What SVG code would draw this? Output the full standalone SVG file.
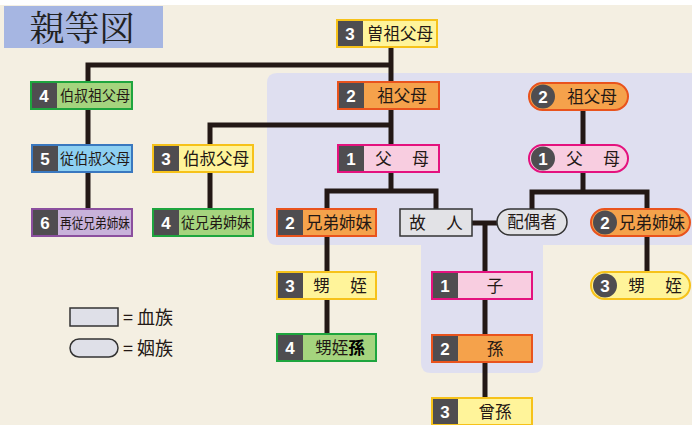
<svg xmlns="http://www.w3.org/2000/svg" width="692" height="425" viewBox="0 0 692 425">
<style>
.lbl{font-family:"Noto Sans CJK JP","Noto Sans",sans-serif;font-size:16.5px;fill:#231815;text-anchor:middle}
.sm{font-size:14.5px}
.xs{font-size:13.5px}
.lg{font-size:18px;text-anchor:start}
.sp{letter-spacing:2px}
.num{font-family:"Liberation Sans",Arial,sans-serif;font-weight:bold;font-size:17px;fill:#fff;text-anchor:middle}
.nb{fill:#4f4d50}
.ln{fill:none;stroke:#231815;stroke-width:5;stroke-linejoin:miter}
.y{fill:#fff49a;stroke:#f6c21a}
.o{fill:#f5a24b;stroke:#e9531d}
.g{fill:#a5d47e;stroke:#1ea53e}
.b{fill:#8dd0f2;stroke:#3a78bf}
.p{fill:#c8b2da;stroke:#8b4f9e}
.k{fill:#f8cde0;stroke:#e4127e}
.w{fill:#e2e2e6;stroke:#333}
.fr{stroke-width:2}
.nf{fill:none;stroke-width:2}
</style>
<rect x="0" y="0" width="692" height="425" fill="#f4efe2"/>
<rect x="0" y="0" width="692" height="5" fill="#ffffff"/>
<path d="M267,83 Q267,73 277,73 H692 V245 H543 V363 Q543,373 533,373 H431 Q421,373 421,363 V245 H277 Q267,245 267,235 Z" fill="#dfdff0"/>
<g id="title">
<rect x="4" y="6" width="159" height="42" fill="#a6b6e2"/>
<text x="82" y="41" font-family="Noto Serif CJK JP,Noto Sans CJK JP,serif" font-size="35" fill="#222" text-anchor="middle">親等図</text>
</g>
<g id="connectors">
<path class="ln" d="M391,47 V145"/>
<path class="ln" d="M88,209 V65 H391"/>
<path class="ln" d="M210,209 V125 H391"/>
<path class="ln" d="M391,173 V191"/>
<path class="ln" d="M327,209 V191 H436 V209"/>
<path class="ln" d="M327,237 V334"/>
<path class="ln" d="M472,223 H497"/>
<path class="ln" d="M485,223 V400"/>
<path class="ln" d="M583,110 V145"/>
<path class="ln" d="M583,172 V192"/>
<path class="ln" d="M532,209 V192 H647 V272"/>
</g>
<g id="ggp"><rect class="y" x="337" y="20" width="100" height="27"/><rect class="nb" x="338" y="21" width="25" height="25"/><rect class="y nf" x="337" y="20" width="100" height="27"/><text class="num" x="350" y="40">3</text><text class="lbl" x="400" y="39.5">曽祖父母</text></g>
<g id="gp"><rect class="o" x="338" y="82" width="101" height="27"/><rect class="nb" x="339" y="83" width="25" height="25"/><rect class="o nf" x="338" y="82" width="101" height="27"/><text class="num" x="351" y="102">2</text><text class="lbl" x="402" y="101.5">祖父母</text></g>
<g id="gu"><rect class="g" x="31" y="82" width="101" height="27"/><rect class="nb" x="32" y="83" width="25" height="25"/><rect class="g nf" x="31" y="82" width="101" height="27"/><text class="num" x="44" y="102">4</text><text class="lbl sm" x="95" y="101" textLength="70" lengthAdjust="spacingAndGlyphs">伯叔祖父母</text></g>
<g id="u2"><rect class="b" x="32" y="145" width="100" height="27"/><rect class="nb" x="33" y="146" width="25" height="25"/><rect class="b nf" x="32" y="145" width="100" height="27"/><text class="num" x="45" y="165">5</text><text class="lbl sm" x="95" y="164" textLength="70" lengthAdjust="spacingAndGlyphs">従伯叔父母</text></g>
<g id="c3"><rect class="p" x="32" y="209" width="100" height="27"/><rect class="nb" x="33" y="210" width="25" height="25"/><rect class="p nf" x="32" y="209" width="100" height="27"/><text class="num" x="45" y="229">6</text><text class="lbl xs" x="95" y="228" textLength="70" lengthAdjust="spacingAndGlyphs">再従兄弟姉妹</text></g>
<g id="u"><rect class="y" x="153" y="145" width="100" height="27"/><rect class="nb" x="154" y="146" width="25" height="25"/><rect class="y nf" x="153" y="145" width="100" height="27"/><text class="num" x="166" y="165">3</text><text class="lbl" x="216" y="164.5">伯叔父母</text></g>
<g id="c"><rect class="g" x="153" y="209" width="100" height="27"/><rect class="nb" x="154" y="210" width="25" height="25"/><rect class="g nf" x="153" y="209" width="100" height="27"/><text class="num" x="166" y="229">4</text><text class="lbl sm" x="216" y="228" textLength="70" lengthAdjust="spacingAndGlyphs">従兄弟姉妹</text></g>
<g id="p"><rect class="k" x="338" y="145" width="101" height="27"/><rect class="nb" x="339" y="146" width="25" height="25"/><rect class="k nf" x="338" y="145" width="101" height="27"/><text class="num" x="351" y="165">1</text><text class="lbl sp" x="403" y="164.5">父　母</text></g>
<g id="sib"><rect class="o" x="277" y="209" width="99" height="27"/><rect class="nb" x="278" y="210" width="25" height="25"/><rect class="o nf" x="277" y="209" width="99" height="27"/><text class="num" x="290" y="229">2</text><text class="lbl" x="339" y="228.5">兄弟姉妹</text></g>
<g id="n"><rect class="y" x="277" y="272" width="99" height="27"/><rect class="nb" x="278" y="273" width="25" height="25"/><rect class="y nf" x="277" y="272" width="99" height="27"/><text class="num" x="290" y="292">3</text><text class="lbl sp" x="341" y="291.5">甥　姪</text></g>
<g id="gn"><rect class="g" x="277" y="334" width="99" height="27"/><rect class="nb" x="278" y="335" width="25" height="25"/><rect class="g nf" x="277" y="334" width="99" height="27"/><text class="num" x="290" y="354">4</text><text class="lbl" x="340" y="353.5">甥姪<tspan font-weight="bold" fill="#000">孫</tspan></text></g>
<g id="self"><rect class="w" x="400" y="209" width="72" height="27" stroke-width="1.5"/><text class="lbl sp" x="437" y="228.5">故　人</text></g>
<g id="child"><rect class="k" x="432" y="272" width="100" height="27"/><rect class="nb" x="433" y="273" width="25" height="25"/><rect class="k nf" x="432" y="272" width="100" height="27"/><text class="num" x="445" y="292">1</text><text class="lbl" x="495" y="291.5">子</text></g>
<g id="gc"><rect class="o" x="432" y="335" width="100" height="27"/><rect class="nb" x="433" y="336" width="25" height="25"/><rect class="o nf" x="432" y="335" width="100" height="27"/><text class="num" x="445" y="355">2</text><text class="lbl" x="495" y="354.5">孫</text></g>
<g id="ggc"><rect class="y" x="432" y="398" width="100" height="27"/><rect class="nb" x="433" y="399" width="25" height="25"/><rect class="y nf" x="432" y="398" width="100" height="27"/><text class="num" x="445" y="418">3</text><text class="lbl" x="495" y="417.5">曾孫</text></g>
<g id="spouse"><rect class="w" x="497" y="209" width="70" height="26" rx="13" stroke-width="1.5"/><text class="lbl" x="532" y="228">配偶者</text></g>
<g id="sgp"><rect class="o fr" x="529" y="83" width="99" height="27" rx="13.5"/><circle class="nb" cx="543" cy="96.5" r="12"/><text class="num" x="543" y="102.5">2</text><text class="lbl" x="592" y="102.5">祖父母</text></g>
<g id="spp"><rect class="k fr" x="529" y="145" width="99" height="27" rx="13.5"/><circle class="nb" cx="543" cy="158.5" r="12"/><text class="num" x="543" y="164.5">1</text><text class="lbl sp" x="594" y="164.5">父　母</text></g>
<g id="ssib"><rect class="o fr" x="591" y="209" width="99" height="27" rx="13.5"/><circle class="nb" cx="605" cy="222.5" r="12"/><text class="num" x="605" y="228.5">2</text><text class="lbl" x="652" y="228.5">兄弟姉妹</text></g>
<g id="sn"><rect class="y fr" x="591" y="272" width="99" height="27" rx="13.5"/><circle class="nb" cx="605" cy="285.5" r="12"/><text class="num" x="605" y="291.5">3</text><text class="lbl sp" x="656" y="291.5">甥　姪</text></g>
<g id="legend">
<rect x="70" y="308" width="48" height="18" fill="#dfe0e8" stroke="#333" stroke-width="1.5"/>
<text class="lbl lg" x="123" y="324">= 血族</text>
<rect x="70" y="339" width="48" height="18" rx="9" fill="#dfe0e8" stroke="#333" stroke-width="1.5"/>
<text class="lbl lg" x="123" y="355">= 姻族</text>
</g>
</svg>
